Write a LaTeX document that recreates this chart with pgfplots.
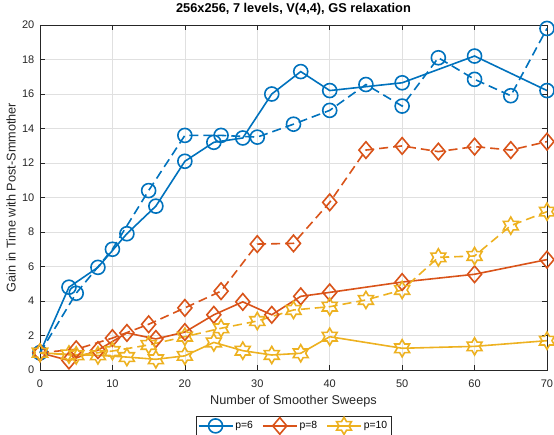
\documentclass[border=0pt]{standalone}
\usepackage{fontspec}
\setmainfont{Liberation Sans}
\usepackage{pgfplots}
\pgfplotsset{compat=1.18}
\definecolor{mblue}{rgb}{0,0.447,0.741}
\definecolor{morange}{rgb}{0.850,0.325,0.098}
\definecolor{myellow}{rgb}{0.929,0.694,0.125}
\definecolor{axgray}{rgb}{0.15,0.15,0.15}
\definecolor{gridgray}{rgb}{0.88,0.88,0.88}
\pgfdeclareplotmark{mdia}{%
  \pgfpathmoveto{\pgfqpoint{0pt}{8.3pt}}%
  \pgfpathlineto{\pgfqpoint{7pt}{0pt}}%
  \pgfpathlineto{\pgfqpoint{0pt}{-8.3pt}}%
  \pgfpathlineto{\pgfqpoint{-7pt}{0pt}}%
  \pgfpathclose\pgfusepathqstroke}
\pgfdeclareplotmark{mhex}{%
  \pgfpathmoveto{\pgfpointpolar{90}{8.6pt}}%
  \pgfpathlineto{\pgfpointpolar{120}{4.97pt}}%
  \pgfpathlineto{\pgfpointpolar{150}{8.6pt}}%
  \pgfpathlineto{\pgfpointpolar{180}{4.97pt}}%
  \pgfpathlineto{\pgfpointpolar{210}{8.6pt}}%
  \pgfpathlineto{\pgfpointpolar{240}{4.97pt}}%
  \pgfpathlineto{\pgfpointpolar{270}{8.6pt}}%
  \pgfpathlineto{\pgfpointpolar{300}{4.97pt}}%
  \pgfpathlineto{\pgfpointpolar{330}{8.6pt}}%
  \pgfpathlineto{\pgfpointpolar{0}{4.97pt}}%
  \pgfpathlineto{\pgfpointpolar{30}{8.6pt}}%
  \pgfpathlineto{\pgfpointpolar{60}{4.97pt}}%
  \pgfpathclose\pgfusepathqstroke}
\begin{document}
\begin{tikzpicture}
\begin{axis}[
  at={(0pt,0pt)}, anchor=south west,
  scale only axis, width=507pt, height=345pt,
  xmin=0, xmax=70, ymin=0, ymax=20,
  xtick={0,10,...,70}, ytick={0,2,...,20},
  tick align=inside, major tick length=5pt,
  every tick/.style={color=axgray, line width=0.5pt},
  axis line style={color=axgray, line width=0.6pt},
  grid=major, major grid style={color=gridgray, line width=0.5pt},
  clip=false,
  /pgf/number format/assume math mode=true,
  ticklabel style={font=\fontsize{11}{13}\selectfont, color=axgray},
  xticklabel style={anchor=base, yshift=-17pt},
  yticklabel style={anchor=east, inner sep=0pt, xshift=-5.5pt},
  title={\textbf{256x256, 7 levels, V(4,4), GS relaxation}},
  title style={at={(axis description cs:0.5,1)}, anchor=base, yshift=6pt, font=\fontsize{12.8}{15}\selectfont},
  xlabel={Number of Smoother Sweeps},
  xlabel style={at={(axis description cs:0.5,0)}, anchor=base, yshift=-34pt, font=\fontsize{12.7}{15}\selectfont, color=axgray},
  ylabel={Gain in Time with Post-Smmother},
  ylabel style={at={(axis description cs:-0.0479,0.5)}, anchor=base, font=\fontsize{12.7}{15}\selectfont, color=axgray},
  legend columns=3,
  legend style={at={(axis description cs:0.5,-0.162)}, anchor=center, draw=axgray, line width=0.5pt,
    font=\fontsize{10.4}{12}\selectfont, inner sep=1.5pt,
    /tikz/every even column/.append style={column sep=7pt}},
  legend image code/.code={\draw[mark repeat=2,mark phase=2,#1] plot coordinates {(0pt,0pt) (17pt,0pt) (34pt,0pt)};},
  every axis plot/.append style={line width=1.6pt},
]
% p=6 solid
\addplot[color=mblue, mark=o, mark size=7pt, mark options={solid}] coordinates {
(0,1) (4,4.8) (8,5.95) (12,7.9) (16,9.5) (20,12.1) (24,13.2) (28,13.45) (32,16.0) (36,17.3) (40,16.2) (50,16.65) (60,18.2) (70,16.2)};
\addlegendentry{p=6}
% p=8 solid
\addplot[color=morange, mark=mdia, mark options={solid}] coordinates {
(0,1) (4,0.55) (8,1.15) (12,2.15) (16,1.8) (20,2.2) (24,3.2) (28,3.95) (32,3.2) (36,4.27) (40,4.5) (50,5.1) (60,5.55) (70,6.4)};
\addlegendentry{p=8}
% p=10 solid
\addplot[color=myellow, mark=mhex, mark options={solid}] coordinates {
(0,1) (4,0.9) (8,0.85) (12,0.75) (16,0.62) (20,0.82) (24,1.6) (28,1.12) (32,0.87) (36,0.97) (40,1.93) (50,1.26) (60,1.37) (70,1.7)};
\addlegendentry{p=10}
% dashed
\addplot[forget plot, color=mblue, dash pattern=on 9pt off 5pt, mark=o, mark size=7pt, mark options={solid}] coordinates {
(0,1) (5,4.45) (10,7.0) (15,10.4) (20,13.6) (25,13.6) (30,13.5) (35,14.25) (40,15.05) (45,16.55) (50,15.3) (55,18.1) (60,16.85) (65,15.9) (70,19.8)};
\addplot[forget plot, color=morange, dash pattern=on 9pt off 5pt, mark=mdia, mark options={solid}] coordinates {
(0,1) (5,1.2) (10,1.85) (15,2.65) (20,3.6) (25,4.57) (30,7.3) (35,7.34) (40,9.72) (45,12.75) (50,12.99) (55,12.66) (60,12.95) (65,12.75) (70,13.24)};
\addplot[forget plot, color=myellow, dash pattern=on 9pt off 5pt, mark=mhex, mark options={solid}] coordinates {
(0,1) (5,0.85) (10,1.1) (15,1.45) (20,1.93) (25,2.42) (30,2.84) (35,3.48) (40,3.67) (45,4.06) (50,4.64) (55,6.53) (60,6.61) (65,8.37) (70,9.18)};
\end{axis}
\pgfresetboundingbox
\path (-40pt,-64pt) rectangle (514pt,370pt);
\end{tikzpicture}
\end{document}
